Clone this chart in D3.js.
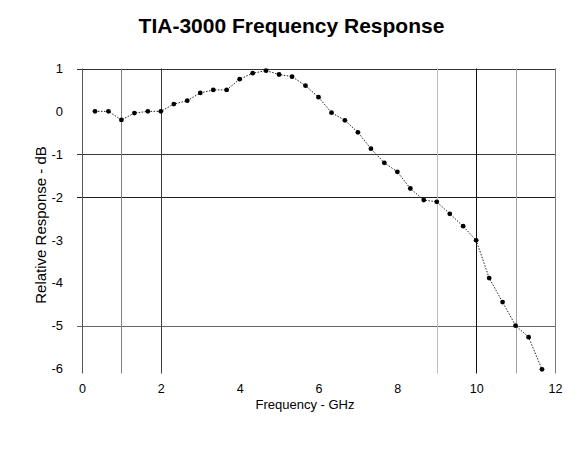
<!DOCTYPE html>
<html>
<head>
<meta charset="utf-8">
<script src="https://cdn.jsdelivr.net/npm/d3@7"></script>
<style>
  html, body { margin: 0; padding: 0; background: #fff; }
  svg { display: block; font-family: "Liberation Sans", Arial, sans-serif; }
</style>
</head>
<body>
<svg id="chart" width="579" height="464"></svg>
<script>
// ---- data ----
const frequencyGHz = [0.33, 0.67, 1.00, 1.33, 1.67, 2.00, 2.33, 2.67, 3.00, 3.33,
                      3.67, 4.00, 4.33, 4.67, 5.00, 5.33, 5.67, 6.00, 6.33, 6.67,
                      7.00, 7.33, 7.67, 8.00, 8.33, 8.67, 9.00, 9.33, 9.67, 10.00,
                      10.33, 10.67, 11.00, 11.33, 11.67];
const responseDB = [0.00, 0.00, -0.20, -0.04, 0.00, 0.00, 0.17, 0.25, 0.43, 0.50,
                    0.50, 0.75, 0.89, 0.95, 0.86, 0.81, 0.60, 0.33, -0.03, -0.21,
                    -0.49, -0.87, -1.20, -1.41, -1.80, -2.07, -2.11, -2.39, -2.68, -3.01,
                    -3.89, -4.45, -5.00, -5.27, -6.02];
const xTickValues = [0, 2, 4, 6, 8, 10, 12];
const yTickValues = [1, 0, -1, -2, -3, -4, -5, -6];
const vGridValues = [1, 2, 9, 10, 11, 12];
const vGridColors = ["#808080", "#3c3c3c", "#bdbdbd", "#111111", "#a0a0a0", "#7a7a7a"];
const hGridValues = [1, -1, -2, -5];
const hGridColors = ["#333333", "#3a3a3a", "#1e1e1e", "#666666"];

const titleText = "TIA-3000 Frequency Response";
const xTitle = "Frequency - GHz";
const yTitle = "Relative Response - dB";

// ---- layout ----
const svg = d3.select("#chart");
const x = d3.scaleLinear().domain([0, 12]).range([82, 555]);
const y = d3.scaleLinear().domain([1, -6]).range([68.5, 368.5]);
const ext = 5;
const fmt = d => String(d);

// gridlines
svg.append("g").selectAll("line").data(hGridValues).join("line")
  .attr("x1", x(0) - ext).attr("x2", x(12))
  .attr("y1", d => Math.round(y(d)) + 0.5).attr("y2", d => Math.round(y(d)) + 0.5)
  .attr("stroke", (d, i) => hGridColors[i]).attr("stroke-width", 1);

svg.append("g").selectAll("line").data(vGridValues).join("line")
  .attr("x1", d => Math.round(x(d)) + 0.5).attr("x2", d => Math.round(x(d)) + 0.5)
  .attr("y1", y(1)).attr("y2", y(-6) + ext)
  .attr("stroke", (d, i) => vGridColors[i]).attr("stroke-width", 1);

// left axis line
svg.append("line")
  .attr("x1", Math.round(x(0)) + 0.5).attr("x2", Math.round(x(0)) + 0.5)
  .attr("y1", y(1)).attr("y2", y(-6) + ext)
  .attr("stroke", "#555").attr("stroke-width", 1);

// axes (labels only)
const yAxis = svg.append("g").attr("transform", `translate(${x(0)},0)`)
  .call(d3.axisLeft(y).tickValues(yTickValues).tickSize(0).tickPadding(19).tickFormat(fmt));
yAxis.select(".domain").remove();
yAxis.selectAll("text").attr("font-size", 13).attr("fill", "#000")
  .style("font-family", '"Liberation Sans", Arial, sans-serif');

const xAxis = svg.append("g").attr("transform", `translate(0,${y(-6)})`)
  .call(d3.axisBottom(x).tickValues(xTickValues).tickSize(0).tickPadding(15.5).tickFormat(fmt));
xAxis.select(".domain").remove();
xAxis.selectAll("text").attr("font-size", 12.5).attr("fill", "#000")
  .style("font-family", '"Liberation Sans", Arial, sans-serif');

// data line
const pts = frequencyGHz.map((f, i) => [f, responseDB[i]]);
svg.append("path")
  .datum(pts)
  .attr("fill", "none")
  .attr("stroke", "#222")
  .attr("stroke-width", 1)
  .attr("stroke-dasharray", "1.5,1.5")
  .attr("d", d3.line().x(d => x(d[0])).y(d => y(d[1])));

svg.append("g").selectAll("circle").data(pts).join("circle")
  .attr("cx", d => x(d[0])).attr("cy", d => y(d[1]))
  .attr("r", 2.4).attr("fill", "#000");

// titles
svg.append("text").attr("x", 291.5).attr("y", 33)
  .attr("text-anchor", "middle").attr("font-size", 21).attr("font-weight", "bold")
  .text(titleText);

svg.append("text").attr("x", 305).attr("y", 409)
  .attr("text-anchor", "middle").attr("font-size", 13)
  .text(xTitle);

svg.append("text").attr("transform", "translate(46,225) rotate(-90)")
  .attr("text-anchor", "middle").attr("font-size", 15)
  .text(yTitle);
</script>
</body>
</html>
